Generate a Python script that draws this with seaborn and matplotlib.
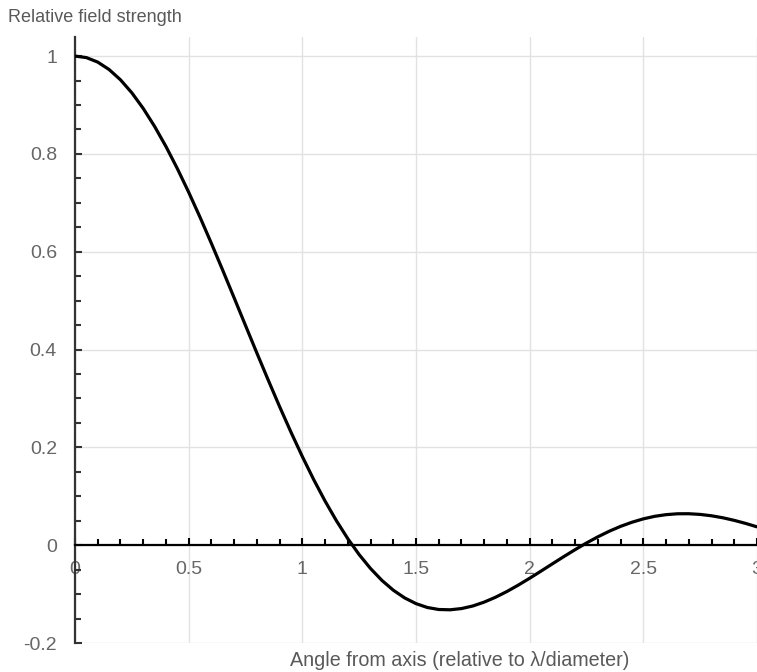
import pandas as pd
import matplotlib
matplotlib.use('Agg')
import matplotlib.pyplot as plt
from matplotlib.ticker import MultipleLocator, FuncFormatter
import seaborn as sns

# Valores (angulo y amplitud relativa)
angulo = [0.00, 0.05, 0.10, 0.15, 0.20, 0.25, 0.30, 0.35, 0.40, 0.45,
          0.50, 0.55, 0.60, 0.65, 0.70, 0.75, 0.80, 0.85, 0.90, 0.95,
          1.00, 1.05, 1.10, 1.15, 1.20, 1.25, 1.30, 1.35, 1.40, 1.45,
          1.50, 1.55, 1.60, 1.65, 1.70, 1.75, 1.80, 1.85, 1.90, 1.95,
          2.00, 2.05, 2.10, 2.15, 2.20, 2.25, 2.30, 2.35, 2.40, 2.45,
          2.50, 2.55, 2.60, 2.65, 2.70, 2.75, 2.80, 2.85, 2.90, 2.95,
          3.00]
campo = [1.0000, 0.9969, 0.9877, 0.9725, 0.9515, 0.9249, 0.8930, 0.8563, 0.8152, 0.7701,
         0.7217, 0.6705, 0.6170, 0.5619, 0.5057, 0.4492, 0.3929, 0.3375, 0.2833, 0.2311,
         0.1812, 0.1341, 0.0902, 0.0499, 0.0133, -0.0193, -0.0477, -0.0720, -0.0920, -0.1078,
         -0.1195, -0.1274, -0.1315, -0.1321, -0.1296, -0.1243, -0.1164, -0.1064, -0.0947, -0.0816,
         -0.0676, -0.0530, -0.0381, -0.0234, -0.0091, 0.0045, 0.0171, 0.0285, 0.0385, 0.0469,
         0.0538, 0.0590, 0.0624, 0.0642, 0.0643, 0.0629, 0.0601, 0.0560, 0.0507, 0.0445,
         0.0375]

df = pd.DataFrame({'angulo': angulo, 'campo': campo})

sns.set_style('white')
plt.rcParams['font.family'] = ['Liberation Sans', 'DejaVu Sans']
plt.rcParams['axes.unicode_minus'] = False

fig = plt.figure(figsize=(7.57, 6.72), dpi=100)
ax = fig.add_axes([75/757, 1 - 643/672, 682/757, (643 - 37)/672])

sns.lineplot(data=df, x='angulo', y='campo', color='black', linewidth=2.3, ax=ax, zorder=3)

ax.set_xlim(0, 3)
ax.set_ylim(-0.2, 1.039)

ax.xaxis.set_major_locator(MultipleLocator(0.5))
ax.xaxis.set_minor_locator(MultipleLocator(0.1))
ax.yaxis.set_major_locator(MultipleLocator(0.2))
ax.yaxis.set_minor_locator(MultipleLocator(0.05))

fmt = FuncFormatter(lambda v, p: '%g' % round(v, 2) if abs(v) > 1e-9 else '0')
ax.xaxis.set_major_formatter(fmt)
ax.yaxis.set_major_formatter(fmt)

ax.grid(True, which='major', color='#e2e2e2', linewidth=1)
ax.set_axisbelow(True)

for s in ['top', 'right']:
    ax.spines[s].set_visible(False)
ax.spines['bottom'].set_position(('data', 0))
ax.spines['bottom'].set_color('black')
ax.spines['bottom'].set_linewidth(1.6)
ax.spines['left'].set_color('#333333')
ax.spines['left'].set_linewidth(1.6)
ax.spines['bottom'].set_zorder(4)

ax.tick_params(axis='x', which='both', bottom=True, direction='in', color='black', width=1.5,
               labelsize=14, labelcolor='#666666', pad=11.5)
ax.tick_params(axis='x', which='major', length=5)
ax.tick_params(axis='x', which='minor', length=4)
ax.tick_params(axis='y', which='both', left=True, direction='in', color='#333333', width=1.5,
               labelsize=14, labelcolor='#666666', pad=13)
ax.tick_params(axis='y', which='major', length=5)
ax.tick_params(axis='y', which='minor', length=4)

ax.set_xlabel('')
ax.set_ylabel('')
fig.text(8/757, 1 - 18/672, 'Relative field strength', ha='left', va='center',
         fontsize=13, color='#595959')
fig.text(460/757, 1 - 661/672, 'Angle from axis (relative to \u03bb/diameter)', ha='center',
         va='center', fontsize=14.2, color='#595959')

plt.savefig('out.png', dpi=100)
